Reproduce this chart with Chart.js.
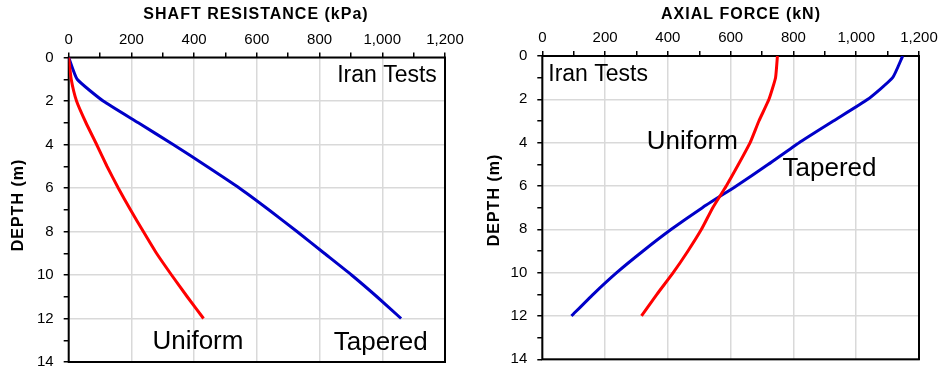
<!DOCTYPE html>
<html>
<head>
<meta charset="utf-8">
<script src="https://cdn.jsdelivr.net/npm/chart.js@4/dist/chart.umd.min.js"></script>
<style>
  html, body { margin: 0; padding: 0; background: #fff; }
  #wrap { position: relative; width: 943px; height: 370px; overflow: hidden; }
  canvas { position: absolute; top: 0; }
  #shaft { left: 0; }
  #force { left: 470px; }
</style>
</head>
<body>
<div id="wrap">
  <canvas id="shaft" width="470" height="370"></canvas>
  <canvas id="force" width="473" height="370"></canvas>
</div>
<script>
// depth down the pile (m)
const depth = [0, 1, 2, 3, 4, 5, 6, 7, 8, 9, 10, 11, 12];

// shaft resistance (kPa)
const shaftUniform = [0, 8, 25, 55, 89, 122, 158, 197, 238, 280, 328, 378, 430];
const shaftTapered = [0, 27, 110, 222, 333, 440, 544, 638, 728, 815, 902, 983, 1060];

// axial force (kN)
const forceUniform = [749, 743, 722, 690, 662, 625, 586, 543, 507, 464, 417, 365, 316];
const forceTapered = [1148, 1116, 1037, 927, 818, 720, 618, 510, 411, 321, 237, 162, 93];

const FONT = '"Liberation Sans", Arial, sans-serif';
const RED = '#ff0000';
const BLUE = '#0000c8';

// black box round the plot area
const framePlugin = {
  id: 'frame',
  beforeDatasetsDraw(chart) {
    const { ctx, chartArea: a } = chart;
    ctx.save();
    ctx.strokeStyle = '#000';
    ctx.lineWidth = 2;
    ctx.strokeRect(a.left, a.top, a.right - a.left, a.bottom - a.top);
    ctx.restore();
  }
};

// axis titles (spaced bold caps) and the free labels on the plot
const textPlugin = {
  id: 'texts',
  afterDraw(chart, args, opts) {
    const { ctx, scales } = chart;
    ctx.save();
    ctx.fillStyle = '#000';
    ctx.textBaseline = 'middle';
    ctx.textAlign = 'center';
    ctx.font = `bold 16px ${FONT}`;
    ctx.letterSpacing = '1px';
    for (const t of opts.titles) {
      ctx.save();
      ctx.translate(t.px, t.py);
      if (t.rotate) ctx.rotate(-Math.PI / 2);
      ctx.fillText(t.text, 0, 0);
      ctx.restore();
    }
    ctx.letterSpacing = '0px';
    for (const n of opts.notes) {
      ctx.font = `${n.size}px ${FONT}`;
      ctx.textAlign = n.align;
      ctx.fillText(n.text, scales.x.getPixelForValue(n.x), scales.y.getPixelForValue(n.y));
    }
    ctx.restore();
  }
};

function series(values, color) {
  return {
    data: values.map((v, i) => ({ x: v, y: depth[i] })),
    showLine: true,
    borderColor: color,
    backgroundColor: color,
    borderWidth: 3,
    pointRadius: 0,
    tension: 0.15
  };
}

function gridColor(step) {
  return (c) => (c.tick && c.tick.value % step === 0 ? '#d9d9d9' : 'rgba(0,0,0,0)');
}

function makeChart(id, cfg) {
  return new Chart(document.getElementById(id), {
    type: 'scatter',
    data: {
      datasets: [series(cfg.uniform, RED), series(cfg.tapered, BLUE)]
    },
    options: {
      responsive: false,
      animation: false,
      layout: { padding: { left: 0, top: 0, right: cfg.padRight, bottom: cfg.padBottom } },
      plugins: {
        legend: { display: false },
        tooltip: { enabled: false },
        texts: { titles: cfg.titles, notes: cfg.notes }
      },
      scales: {
        x: {
          type: 'linear',
          position: 'top',
          min: 0,
          max: 1200,
          afterFit: (s) => { s.height = cfg.axisTop; s.paddingLeft = 0; s.paddingRight = 0; },
          border: { display: false },
          grid: { color: gridColor(200), lineWidth: 1.5, tickColor: '#000', tickLength: 5, tickWidth: 1.5 },
          ticks: {
            stepSize: 100,
            maxTicksLimit: 20,
            autoSkip: false,
            maxRotation: 0,
            padding: 4,
            color: '#000',
            font: { family: FONT, size: 15 },
            callback: (v) => (v % 200 === 0 ? v.toLocaleString('en-US') : '')
          }
        },
        y: {
          type: 'linear',
          position: 'left',
          reverse: true,
          min: 0,
          max: 14,
          afterFit: (s) => { s.width = cfg.axisLeft; s.paddingTop = 0; s.paddingBottom = 0; },
          border: { display: false },
          grid: { color: gridColor(2), lineWidth: 1.5, tickColor: '#000', tickLength: 5, tickWidth: 1.5 },
          ticks: {
            stepSize: 1,
            maxTicksLimit: 20,
            autoSkip: false,
            padding: 10,
            color: '#000',
            font: { family: FONT, size: 15 },
            callback: (v) => (v % 2 === 0 ? String(v) : '')
          }
        }
      }
    },
    plugins: [framePlugin, textPlugin]
  });
}

makeChart('shaft', {
  uniform: shaftUniform,
  tapered: shaftTapered,
  axisLeft: 68.7,
  axisTop: 57.5,
  padRight: 25,
  padBottom: 8,
  titles: [
    { text: 'SHAFT RESISTANCE (kPa)', px: 256, py: 15 },
    { text: 'DEPTH (m)', px: 19, py: 205, rotate: true }
  ],
  notes: [
    { text: 'Iran Tests', x: 1174, y: 0.85, align: 'right', size: 23 },
    { text: 'Uniform', x: 412, y: 13.05, align: 'center', size: 26 },
    { text: 'Tapered', x: 995, y: 13.1, align: 'center', size: 26 }
  ]
});

makeChart('force', {
  uniform: forceUniform,
  tapered: forceTapered,
  axisLeft: 72.3,
  axisTop: 56,
  padRight: 24,
  padBottom: 10.7,
  titles: [
    { text: 'AXIAL FORCE (kN)', px: 271, py: 15 },
    { text: 'DEPTH (m)', px: 25, py: 200, rotate: true }
  ],
  notes: [
    { text: 'Iran Tests', x: 19, y: 0.86, align: 'left', size: 23 },
    { text: 'Uniform', x: 478, y: 3.97, align: 'center', size: 26 },
    { text: 'Tapered', x: 915, y: 5.2, align: 'center', size: 26 }
  ]
});
</script>
</body>
</html>
